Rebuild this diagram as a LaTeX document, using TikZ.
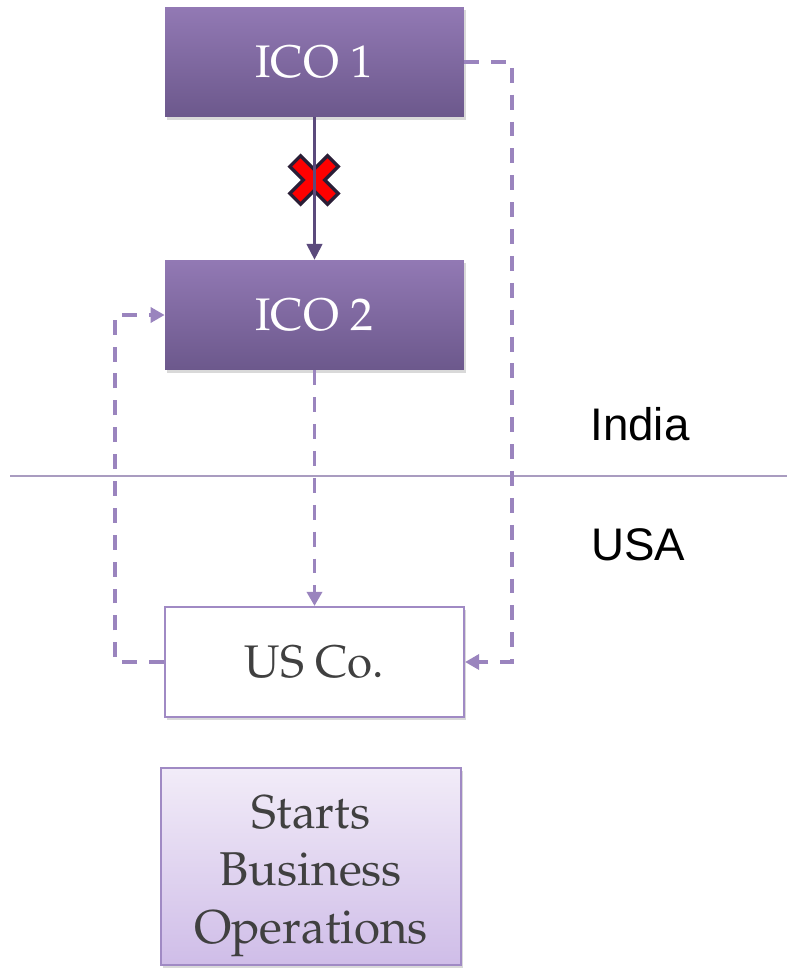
\documentclass[tikz,border=0pt]{standalone}
\usepackage[T1]{fontenc}
\usepackage{fontspec}
\usepackage{tikz}
\usetikzlibrary{arrows, arrows.meta, shadows}
\newfontfamily\arialfont{Liberation Sans}
\newcommand{\palfont}{\fontencoding{T1}\fontfamily{ppl}\selectfont}

\definecolor{icotop}{HTML}{9279B4}
\definecolor{icobot}{HTML}{6C588C}
\definecolor{dashcol}{HTML}{9A84BE}
\definecolor{solidcol}{HTML}{5B4A7C}
\definecolor{boxline}{HTML}{A08AC4}
\definecolor{starttop}{HTML}{F2ECF8}
\definecolor{startbot}{HTML}{CFBDE8}
\definecolor{divcol}{HTML}{A99CC0}
\definecolor{textgray}{HTML}{404040}
\definecolor{xdark}{HTML}{2A1E36}
\definecolor{xred}{HTML}{FF0000}

\begin{document}
\begin{tikzpicture}[x=0.02cm, y=-0.02cm,
  box/.style={rectangle, inner sep=0pt, minimum width=5.98cm, minimum height=2.2cm,
    font=\palfont\fontsize{26}{30}\selectfont,
    drop shadow={shadow xshift=1.2pt, shadow yshift=-1.8pt, opacity=.3, fill=gray}},
  icobox/.style={box, top color=icotop, bottom color=icobot, text=white},
  usbox/.style={box, fill=white, draw=boxline, line width=1.2pt, text=textgray},
  startbox/.style={box, minimum width=6cm, minimum height=3.94cm,
    top color=starttop, bottom color=startbot, draw=boxline, line width=1.2pt,
    text=textgray, font=\palfont\fontsize{27}{32.6}\selectfont},
  solidarrow/.style={draw=solidcol, line width=1.2pt, -{Triangle[length=9pt, width=9pt]}},
  dasharrow/.style={draw=dashcol, line width=2.2pt, dash pattern=on 8.5pt off 6.8pt,
    -{Triangle[length=8pt, width=8.5pt]}},
  country/.style={font=\arialfont\fontsize{26}{30}\selectfont, inner sep=0pt}
]
\useasboundingbox (0,0) rectangle (787,970);

% boxes
\node [icobox] (ico1) at (314.5,62) {ICO 1};
\node [icobox] (ico2) at (314.5,315) {ICO 2};
\node [usbox] (usco) at (314.5,662) {US Co.};
\node [startbox] (start) at (311,866.5)
  {\raisebox{-4.5pt}[\height][\depth]{\begin{tabular}{@{}c@{}}Starts\\Business\\Operations\end{tabular}}};

% border line and countries
\draw [divcol, line width=0.9pt] (10,476) -- (787,476);
\node [country] (india) at (640,424) {India};
\node [country] (usa) at (638,545) {USA};

% blocked transfer
\coordinate (xmark) at (314,180);
\draw [xdark, line width=10.5pt, shift={(xmark)}] (-20,-20) -- (20,20) (-20,20) -- (20,-20);
\draw [xred, line width=6.5pt, shift={(xmark)}] (-17.6,-17.6) -- (17.6,17.6) (-17.6,17.6) -- (17.6,-17.6);
\draw [solidarrow] (ico1) -- (ico2);

% dashed flows
\draw [dasharrow] (ico1.east) -- ++(48,0) |- (usco.east);
\draw [dasharrow] (ico2) -- (usco);
\draw [dasharrow] (usco.west) -- ++(-49,0) |- (ico2.west);
\end{tikzpicture}
\end{document}
